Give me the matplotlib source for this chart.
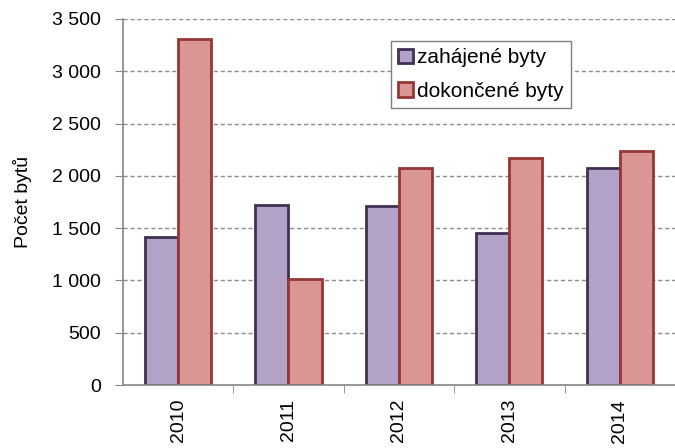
import numpy as np
from matplotlib import pyplot as plt
from matplotlib.ticker import FuncFormatter, FixedLocator

# %%
# Data:
years = ["2010", "2011", "2012", "2013", "2014"]
zahajene = [1419, 1725, 1713, 1458, 2074]
dokoncene = [3308, 1014, 2074, 2172, 2239]

labels = ["zahájené byty", "dokončené byty"]

# %%
plt.rcParams["font.family"] = ["Liberation Sans", "DejaVu Sans"]
plt.rcParams["font.size"] = 14

fig = plt.figure(figsize=(6.75, 4.48), dpi=100)
ax = fig.add_axes([0.182, 0.1406, 0.818, 0.817])

x = np.arange(len(years))
w = 0.30

ax.bar(x - w / 2, zahajene, w, color="#B3A2C7", edgecolor="#3F3151",
       linewidth=2.0, label=labels[0], zorder=3)
ax.bar(x + w / 2, dokoncene, w, color="#D99694", edgecolor="#953735",
       linewidth=2.0, label=labels[1], zorder=3)

ax.set_xlim(-0.5, len(years) - 0.5)
ax.set_ylim(0, 3500)
ax.set_yticks(np.arange(0, 3501, 500))
ax.yaxis.set_major_formatter(FuncFormatter(lambda v, p: f"{int(v):,}".replace(",", " ")))

# gridlines (not at zero)
for yv in np.arange(500, 3501, 500):
    ax.axhline(yv, color="#8C8C8C", linestyle=(0, (3, 2)), linewidth=1.0, zorder=1)

ax.set_xticks(x)
ax.set_xticklabels(years, rotation=90)
ax.tick_params(axis="x", which="major", length=0, pad=10)
ax.xaxis.set_minor_locator(FixedLocator(np.arange(0.5, len(years) - 0.5, 1)))
ax.tick_params(axis="x", which="minor", length=6, color="#868686")
ax.tick_params(axis="y", length=6, color="#868686", pad=10)

for side in ["top", "right"]:
    ax.spines[side].set_visible(False)
for side in ["left", "bottom"]:
    ax.spines[side].set_color("#868686")
    ax.spines[side].set_linewidth(1.2)
    ax.spines[side].set_zorder(4)

ax.set_ylabel("Počet bytů", labelpad=14)

leg = ax.legend(loc="upper left", bbox_to_anchor=(0.4855, 0.94), borderaxespad=0,
                fancybox=False, edgecolor="#7F7F7F", framealpha=1, fontsize=15,
                handlelength=0.7, handleheight=0.7, handletextpad=0.2,
                labelspacing=0.7, borderpad=0.35)
leg.get_frame().set_linewidth(1.0)

fig.savefig("out.png", dpi=100)
